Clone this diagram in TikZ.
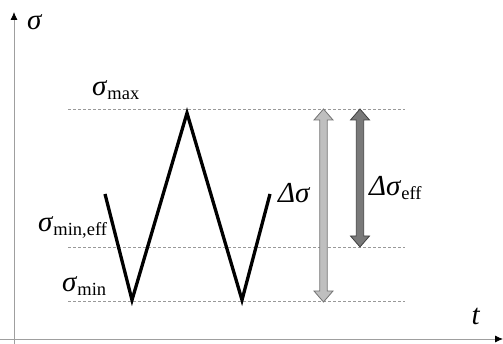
\documentclass[tikz,border=0pt]{standalone}
\usepackage{fontspec}
\setmainfont{Liberation Serif}
\usetikzlibrary{arrows.meta}
\newcommand\mysig{\textit{σ}}
\newcommand\mysub[1]{\raisebox{-0.25ex}{\fontsize{18.5}{18.5}\selectfont #1}}
\newcommand\mydblarrow[5]{%
  % x, ytop, ybot, fill, draw
  \filldraw[fill=#4,draw=#5,line width=0.8pt,line join=miter]
    (#1-3.7,#2+11) -- (#1-9.5,#2+11) -- (#1,#2) -- (#1+9.5,#2+11) -- (#1+3.7,#2+11)
    -- (#1+3.7,#3-11) -- (#1+9.5,#3-11) -- (#1,#3) -- (#1-9.5,#3-11) -- (#1-3.7,#3-11) -- cycle;}
\begin{document}
\begin{tikzpicture}[x=1pt,y=-1pt,
  lbl/.style={inner sep=0pt,font=\fontsize{29}{29}\selectfont},
  lvl/.style={draw=gray!80,dash pattern=on 3pt off 2pt,line width=0.6pt},
  axis/.style={draw=gray!75,line width=0.8pt,-{Latex[black,length=8pt,width=7pt]}},
  zig/.style={line width=3.3pt,line join=miter,black}]
\useasboundingbox (0,0) rectangle (503,344);
% axes
\coordinate (ytop) at (14,12);
\coordinate (xend) at (503,339);
\draw[axis] (14,344) -- (ytop);
\draw[axis] (0,339) -- (xend);
\node[lbl,anchor=base west] (sig) at (27,30) {\mysig};
\node[lbl,anchor=base] (t) at (476,325) {\textit{t}};
% levels
\coordinate (maxL) at (68,109); \coordinate (maxR) at (405,109);
\coordinate (effL) at (68,247); \coordinate (effR) at (405,247);
\coordinate (minL) at (68,301); \coordinate (minR) at (405,301);
\draw[lvl] (maxL) -- (maxR);
\draw[lvl] (effL) -- (effR);
\draw[lvl] (minL) -- (minR);
% labels
\node[lbl,anchor=base west] (lmax) at (92,96) {\mysig\mysub{max}};
\node[lbl,anchor=base west] (leff) at (38,232) {\mysig\mysub{min,eff}};
\node[lbl,anchor=base west] (lmin) at (62,292) {\mysig\mysub{min}};
% zigzag
\coordinate (z0) at (105,194);
\coordinate (z1) at (132,300);
\coordinate (z2) at (187,113);
\coordinate (z3) at (242,300);
\coordinate (z4) at (270,194);
\draw[zig] (z0) -- (z1) -- (z2) -- (z3) -- (z4);
% range arrows
\mydblarrow{323.5}{109}{302}{gray!50}{gray!110}
\mydblarrow{360}{109}{247}{gray!105}{black!75}
\node[lbl,anchor=base west] (dsig) at (278,203) {\textit{Δσ}};
\node[lbl,anchor=base west] (deff) at (369,196) {\textit{Δσ}\mysub{eff}};
\end{tikzpicture}
\end{document}
